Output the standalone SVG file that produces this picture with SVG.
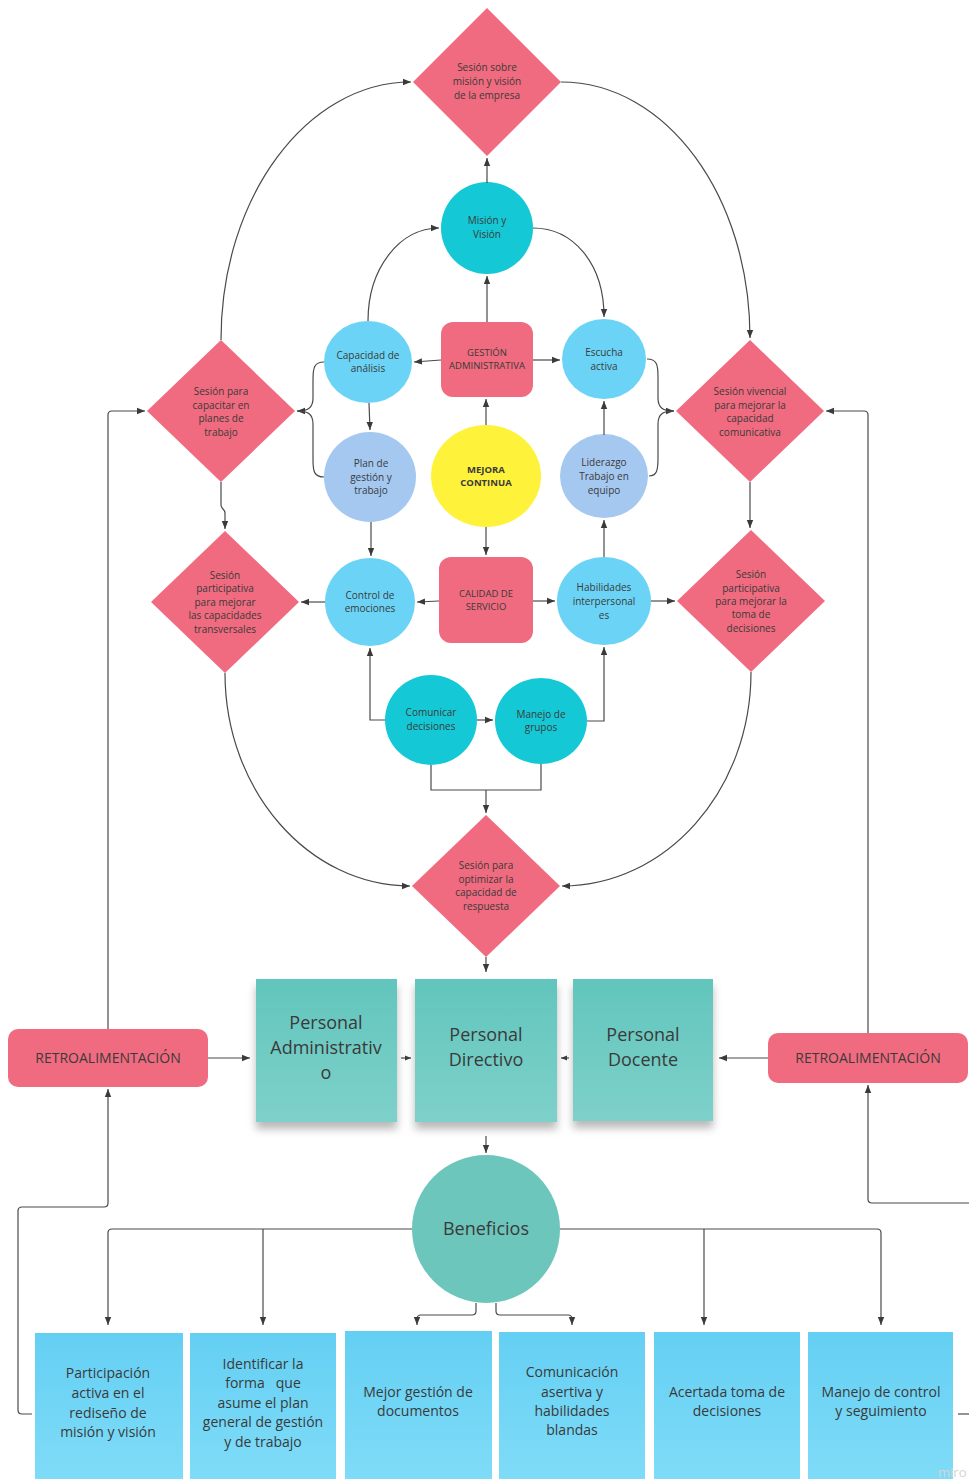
<svg xmlns="http://www.w3.org/2000/svg" width="969" height="1479" viewBox="0 0 969 1479">
<style>
.t{font-family:"Open Sans","Liberation Sans",sans-serif;fill:#3a3a3a;text-anchor:middle}
.s10{font-size:10px}
.s9{font-size:9.5px}
.b{font-weight:bold}
.s14{font-size:14px}
.s18{font-size:18px}
.dia{fill:#f06b7f}
.rr{fill:#f06b7f}
.cy{fill:#6bd4f6}
.lb{fill:#a5c8f1}
.tl{fill:#14c9d5}
.ln{fill:none;stroke:#4a4a4a;stroke-width:1.2}
</style>
<defs>
<marker id="ah" viewBox="0 0 10 10" refX="10" refY="5" markerWidth="8" markerHeight="8" markerUnits="userSpaceOnUse" orient="auto"><path d="M0,1 L10,5 L0,9 z" fill="#3a3a3a"/></marker>
<marker id="as" viewBox="0 0 10 10" refX="10" refY="5" markerWidth="6" markerHeight="6" markerUnits="userSpaceOnUse" orient="auto"><path d="M0,1 L10,5 L0,9 z" fill="#3a3a3a"/></marker>
<linearGradient id="gt" x1="0" y1="0" x2="0" y2="1"><stop offset="0" stop-color="#62c5bc"/><stop offset="1" stop-color="#7dd1ca"/></linearGradient>
<linearGradient id="gb" x1="0" y1="0" x2="0" y2="1"><stop offset="0" stop-color="#64cff3"/><stop offset="1" stop-color="#80dcf8"/></linearGradient>
<filter id="sh" x="-10%" y="-10%" width="120%" height="135%"><feDropShadow dx="0" dy="7" stdDeviation="4" flood-color="#000" flood-opacity="0.28"/></filter>
</defs>
<rect width="969" height="1479" fill="#ffffff"/>

<g id="n-sesion-mision">
<polygon class="dia" points="487,8 561,82 487,156 413,82"/>
<text class="t s10"><tspan x="487" y="70.5">Sesión sobre</tspan><tspan x="487" y="84.5">misión y visión</tspan><tspan x="487" y="98.5">de la empresa</tspan></text>
</g>
<g id="n-mision">
<circle class="tl" cx="487" cy="228" r="46"/>
<text class="t s10"><tspan x="487" y="223.5">Misión y</tspan><tspan x="487" y="237.5">Visión</tspan></text>
</g>
<g id="n-capacidad">
<ellipse class="cy" cx="368" cy="362" rx="44" ry="41"/>
<text class="t s10"><tspan x="368" y="358.5">Capacidad de</tspan><tspan x="368" y="371.5">análisis</tspan></text>
</g>
<g id="n-gestion">
<rect class="rr" x="441" y="322" width="92" height="75" rx="12"/>
<text class="t s9"><tspan x="487" y="355.5">GESTIÓN</tspan><tspan x="487" y="368.5">ADMINISTRATIVA</tspan></text>
</g>
<g id="n-escucha">
<ellipse class="cy" cx="604" cy="359" rx="42" ry="40"/>
<text class="t s10"><tspan x="604" y="355.5">Escucha</tspan><tspan x="604" y="369.5">activa</tspan></text>
</g>
<g id="n-sesion-capacitar">
<polygon class="dia" points="221,340 295,411 221,482 147,411"/>
<text class="t s10"><tspan x="221" y="394.5">Sesión para</tspan><tspan x="221" y="408.5">capacitar en</tspan><tspan x="221" y="421.5">planes de</tspan><tspan x="221" y="435.5">trabajo</tspan></text>
</g>
<g id="n-sesion-vivencial">
<polygon class="dia" points="750,340 824,411 750,482 676,411"/>
<text class="t s10"><tspan x="750" y="394.5">Sesión vivencial</tspan><tspan x="750" y="408.5">para mejorar la</tspan><tspan x="750" y="421.5">capacidad</tspan><tspan x="750" y="435.5">comunicativa</tspan></text>
</g>
<g id="n-plan">
<ellipse class="lb" cx="370" cy="477" rx="46" ry="45"/>
<text class="t s10"><tspan x="371" y="466.5">Plan de</tspan><tspan x="371" y="480.5">gestión y</tspan><tspan x="371" y="493.5">trabajo</tspan></text>
</g>
<g id="n-mejora">
<ellipse cx="486" cy="476" rx="55" ry="51" fill="#fff23b"/>
<text class="t s9 b"><tspan x="486" y="472.5">MEJORA</tspan><tspan x="486" y="485.5">CONTINUA</tspan></text>
</g>
<g id="n-liderazgo">
<ellipse class="lb" cx="604" cy="476" rx="44" ry="42"/>
<text class="t s10"><tspan x="604" y="465.5">Liderazgo</tspan><tspan x="604" y="479.5">Trabajo en</tspan><tspan x="604" y="493.5">equipo</tspan></text>
</g>
<g id="n-sesion-transversales">
<polygon class="dia" points="225,531 299,602 225,673 151,602"/>
<text class="t s10"><tspan x="225" y="578.5">Sesión</tspan><tspan x="225" y="591.5">participativa</tspan><tspan x="225" y="605.5">para mejorar</tspan><tspan x="225" y="618.5">las capacidades</tspan><tspan x="225" y="632.5">transversales</tspan></text>
</g>
<g id="n-control">
<ellipse class="cy" cx="370" cy="602" rx="45" ry="44"/>
<text class="t s10"><tspan x="370" y="598.5">Control de</tspan><tspan x="370" y="611.5">emociones</tspan></text>
</g>
<g id="n-calidad">
<rect class="rr" x="439" y="557" width="94" height="86" rx="12"/>
<text class="t s9"><tspan x="486" y="596.5">CALIDAD DE</tspan><tspan x="486" y="609.5">SERVICIO</tspan></text>
</g>
<g id="n-habilidades">
<ellipse class="cy" cx="604" cy="601" rx="47" ry="44"/>
<text class="t s10"><tspan x="604" y="590.5">Habilidades</tspan><tspan x="604" y="604.5">interpersonal</tspan><tspan x="604" y="618.5">es</tspan></text>
</g>
<g id="n-sesion-decisiones">
<polygon class="dia" points="751,530 825,601 751,672 677,601"/>
<text class="t s10"><tspan x="751" y="577.5">Sesión</tspan><tspan x="751" y="591.5">participativa</tspan><tspan x="751" y="604.5">para mejorar la</tspan><tspan x="751" y="617.5">toma de</tspan><tspan x="751" y="631.5">decisiones</tspan></text>
</g>
<g id="n-comunicar">
<ellipse class="tl" cx="431" cy="720" rx="46" ry="45"/>
<text class="t s10"><tspan x="431" y="715.5">Comunicar</tspan><tspan x="431" y="729.5">decisiones</tspan></text>
</g>
<g id="n-manejo-grupos">
<ellipse class="tl" cx="541" cy="721" rx="46" ry="43"/>
<text class="t s10"><tspan x="541" y="717.5">Manejo de</tspan><tspan x="541" y="730.5">grupos</tspan></text>
</g>
<g id="n-sesion-optimizar">
<polygon class="dia" points="486,815 560,886 486,957 412,886"/>
<text class="t s10"><tspan x="486" y="868.5">Sesión para</tspan><tspan x="486" y="882.5">optimizar la</tspan><tspan x="486" y="895.5">capacidad de</tspan><tspan x="486" y="909.5">respuesta</tspan></text>
</g>

<g id="n-retro-izq">
<rect class="rr" x="8" y="1029" width="200" height="58" rx="10"/>
<text class="t s14" x="108" y="1063">RETROALIMENTACIÓN</text>
</g>
<g id="n-administrativo">
<rect x="256" y="979" width="141" height="143" fill="url(#gt)" filter="url(#sh)"/>
<text class="t s18"><tspan x="326" y="1028.5">Personal</tspan><tspan x="326" y="1053.5">Administrativ</tspan><tspan x="326" y="1078.5">o</tspan></text>
</g>
<g id="n-directivo">
<rect x="415" y="979" width="142" height="143" fill="url(#gt)" filter="url(#sh)"/>
<text class="t s18"><tspan x="486" y="1040.5">Personal</tspan><tspan x="486" y="1065.5">Directivo</tspan></text>
</g>
<g id="n-docente">
<rect x="573" y="979" width="140" height="142" fill="url(#gt)" filter="url(#sh)"/>
<text class="t s18"><tspan x="643" y="1040.5">Personal</tspan><tspan x="643" y="1065.5">Docente</tspan></text>
</g>
<g id="n-retro-der">
<rect class="rr" x="768" y="1033" width="200" height="50" rx="10"/>
<text class="t s14" x="868" y="1063">RETROALIMENTACIÓN</text>
</g>
<g id="n-beneficios">
<circle cx="486" cy="1229" r="74" fill="#6cc6bb"/>
<text class="t s18" x="486" y="1235">Beneficios</text>
</g>

<g id="n-participacion">
<rect x="35" y="1333" width="148" height="150" fill="url(#gb)"/>
<text class="t s14"><tspan x="108" y="1378">Participación</tspan><tspan x="108" y="1398">activa en el</tspan><tspan x="108" y="1418">rediseño de</tspan><tspan x="108" y="1437">misión y visión</tspan></text>
</g>
<g id="n-identificar">
<rect x="190" y="1333" width="146" height="150" fill="url(#gb)"/>
<text class="t s14"><tspan x="263" y="1369">Identificar la</tspan><tspan x="263" y="1388" xml:space="preserve">forma   que</tspan><tspan x="263" y="1408">asume el plan</tspan><tspan x="263" y="1427">general de gestión</tspan><tspan x="263" y="1447">y de trabajo</tspan></text>
</g>
<g id="n-documentos">
<rect x="345" y="1331" width="147" height="152" fill="url(#gb)"/>
<text class="t s14"><tspan x="418" y="1397">Mejor gestión de</tspan><tspan x="418" y="1416">documentos</tspan></text>
</g>
<g id="n-comunicacion">
<rect x="499" y="1332" width="146" height="151" fill="url(#gb)"/>
<text class="t s14"><tspan x="572" y="1377">Comunicación</tspan><tspan x="572" y="1397">asertiva y</tspan><tspan x="572" y="1416">habilidades</tspan><tspan x="572" y="1435">blandas</tspan></text>
</g>
<g id="n-acertada">
<rect x="654" y="1332" width="146" height="151" fill="url(#gb)"/>
<text class="t s14"><tspan x="727" y="1397">Acertada toma de</tspan><tspan x="727" y="1416">decisiones</tspan></text>
</g>
<g id="n-manejo-control">
<rect x="808" y="1332" width="145" height="151" fill="url(#gb)"/>
<text class="t s14"><tspan x="881" y="1397">Manejo de control</tspan><tspan x="881" y="1416">y seguimiento</tspan></text>
</g>

<g id="connectors" class="ln">
<path d="M487,183 L487,158" marker-end="url(#ah)"/>
<path d="M221,340 C221,197 307,82 411,82" marker-end="url(#ah)"/>
<path d="M561,82 C667,82 750,197 750,338" marker-end="url(#ah)"/>
<path d="M368,321 C368,268 400,228 439,228" marker-end="url(#ah)"/>
<path d="M533,228 C572,228 604,262 604,317" marker-end="url(#ah)"/>
<path d="M487,322 L487,276" marker-end="url(#ah)"/>
<path d="M441,360 L414,362" marker-end="url(#ah)"/>
<path d="M533,360 L560,360" marker-end="url(#ah)"/>
<path d="M486,425 L486,399" marker-end="url(#ah)"/>
<path d="M486,527 L486,555" marker-end="url(#ah)"/>
<path d="M369,403 L370,430" marker-end="url(#ah)"/>
<path d="M324,362 C314,362 313,368 313,380 L313,398 C313,408 308,411 297,411" marker-end="url(#ah)"/>
<path d="M324,477 C314,477 313,471 313,460 L313,424 C313,414 308,411 297,411"/>
<path d="M604,435 L604,401" marker-end="url(#ah)"/>
<path d="M647,359 C657,359 658,365 658,377 L658,398 C658,408 663,411 674,411" marker-end="url(#ah)"/>
<path d="M649,476 C657,476 658,470 658,458 L658,424 C658,414 663,411 674,411"/>
<path d="M750,482 L750,528" marker-end="url(#ah)"/>
<path d="M221,482 L221,505 C221,509 225,509 225,513 L225,529" marker-end="url(#ah)"/>
<path d="M371,522 L371,556" marker-end="url(#ah)"/>
<path d="M325,602 L301,602" marker-end="url(#ah)"/>
<path d="M439,601 L417,602" marker-end="url(#ah)"/>
<path d="M533,601 L555,601" marker-end="url(#ah)"/>
<path d="M651,601 L675,601" marker-end="url(#ah)"/>
<path d="M604,557 L604,520" marker-end="url(#ah)"/>
<path d="M385,720 L370,720 L370,648" marker-end="url(#ah)"/>
<path d="M477,720 L493,720" marker-end="url(#ah)"/>
<path d="M587,721 L604,721 L604,647" marker-end="url(#ah)"/>
<path d="M431,765 L431,790 L541,790 L541,764"/>
<path d="M486,790 L486,813" marker-end="url(#ah)"/>
<path d="M225,673 C225,791 309,886 410,886" marker-end="url(#ah)"/>
<path d="M751,672 C751,791 666,886 562,886" marker-end="url(#ah)"/>
<path d="M486,957 L486,972" marker-end="url(#ah)"/>
<path d="M108,1029 L108,415 Q108,411 112,411 L145,411" marker-end="url(#ah)"/>
<path d="M868,1033 L868,415 Q868,411 864,411 L826,411" marker-end="url(#ah)"/>
<path d="M208,1058 L250,1058" marker-end="url(#ah)"/>
<path d="M401,1058 L411,1058" marker-end="url(#as)"/>
<path d="M569,1058 L561,1058" marker-end="url(#as)"/>
<path d="M768,1058 L719,1058" marker-end="url(#ah)"/>
<path d="M486,1136 L486,1153" marker-end="url(#ah)"/>
<path d="M32,1414 L22,1414 Q18,1414 18,1410 L18,1211 Q18,1207 22,1207 L104,1207 Q108,1207 108,1203 L108,1089" marker-end="url(#ah)"/>
<path d="M969,1203 L872,1203 Q868,1203 868,1199 L868,1085" marker-end="url(#ah)"/>
<path d="M958,1414 L969,1414"/>
<path d="M412,1229 L112,1229 Q108,1229 108,1233 L108,1325" marker-end="url(#ah)"/>
<path d="M263,1229 L263,1325" marker-end="url(#ah)"/>
<path d="M560,1229 L877,1229 Q881,1229 881,1233 L881,1325" marker-end="url(#ah)"/>
<path d="M704,1229 L704,1325" marker-end="url(#ah)"/>
<path d="M476,1303 L476,1311 Q476,1315 472,1315 L421,1315 Q417,1315 417,1319 L417,1325" marker-end="url(#ah)"/>
<path d="M496,1303 L496,1311 Q496,1315 500,1315 L568,1315 Q572,1315 572,1319 L572,1325" marker-end="url(#ah)"/>
</g>
<text x="938" y="1477" style="font-family:'Open Sans','Liberation Sans',sans-serif;font-size:13px;fill:#d4d4d4">miro</text>
</svg>
